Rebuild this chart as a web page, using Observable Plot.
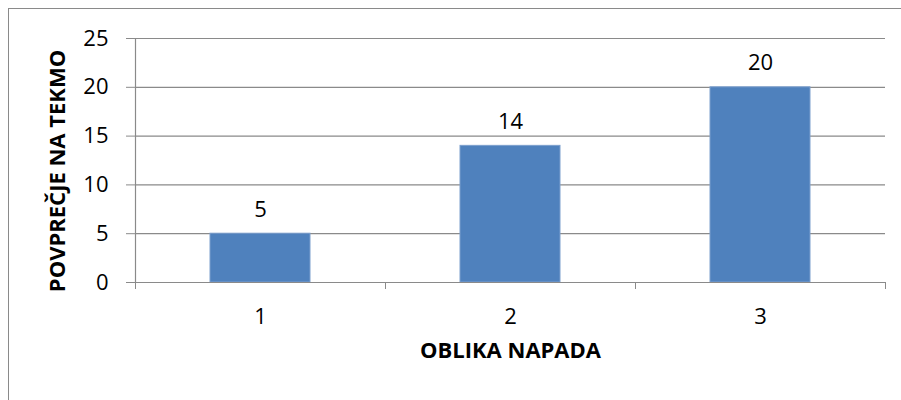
<!DOCTYPE html>
<html>
<head>
<meta charset="utf-8">
<script src="https://cdn.jsdelivr.net/npm/d3@7"></script>
<script src="https://cdn.jsdelivr.net/npm/@observablehq/plot@0.6"></script>
<style>
  html, body { margin: 0; padding: 0; background: #fff; overflow: hidden; }
  #wrap { position: relative; width: 901px; height: 400px; overflow: hidden; }
  #frame { position: absolute; left: 8px; top: 8px; width: 1000px; height: 1000px; border: 1px solid #8a8a8a; box-sizing: border-box; }
  #chart { position: absolute; left: 0; top: 0; }
</style>
</head>
<body>
<div id="wrap"><div id="frame"></div><div id="chart"></div></div>
<script>
const categories = [1, 2, 3];
const values = [5, 14, 20];
const yTicks = [0, 5, 10, 15, 20, 25];
const categoryBounds = [0.5, 1.5, 2.5, 3.5];
const xTitle = "OBLIKA NAPADA";
const yTitle = "POVPREČJE NA TEKMO";

const data = categories.map((c, i) => ({c, v: values[i]}));
const gray = "#8a8a8a";
const font = "'Open Sans', sans-serif";

const chart = Plot.plot({
  width: 901,
  height: 400,
  marginLeft: 135,
  marginRight: 16,
  marginTop: 38,
  marginBottom: 118,
  x: {type: "linear", domain: [0.5, 3.5]},
  y: {domain: [0, 25]},
  style: {fontFamily: font, fontSize: "22px", background: "transparent", color: "#000", overflow: "visible"},
  marks: [
    Plot.ruleY(yTicks, {stroke: gray, strokeWidth: 1.2}),
    Plot.rectY(data, {x1: d => d.c - 0.5, x2: d => d.c + 0.5, y: "v", insetLeft: 75, insetRight: 75, fill: "#4F81BD", stroke: "#7C9FCE", strokeWidth: 1}),
    Plot.ruleX([categoryBounds[0]], {y1: 0, y2: 25, stroke: gray, strokeWidth: 1.2}),
    Plot.ruleY([0], {stroke: gray, strokeWidth: 1.2}),
    Plot.axisY({ticks: yTicks, tickSize: 9, tickPadding: 18, stroke: gray, fill: "#000", fontSize: 22, label: null}),
    Plot.axisX({ticks: categoryBounds, tickSize: 7, tickFormat: () => "", stroke: gray, label: null}),
    Plot.axisX({ticks: categories, tickSize: 0, tickPadding: 26, tickFormat: d => String(d), fill: "#000", fontSize: 22, label: null}),
    Plot.text(data, {x: "c", y: "v", text: d => String(d.v), dy: -24, fontSize: 22, fill: "#000"}),
    Plot.text([xTitle], {text: d => d, frameAnchor: "bottom", dy: 75, fontSize: 22, fontWeight: "bold", fill: "#000"})
  ]
});

// rotated y-axis title
d3.select(chart).append("text")
  .attr("transform", "translate(58,171) rotate(-90)")
  .attr("text-anchor", "middle")
  .attr("dy", "0.32em")
  .attr("font-family", font)
  .attr("font-size", 22)
  .attr("font-weight", "bold")
  .attr("fill", "#000")
  .text(yTitle);

document.getElementById("chart").appendChild(chart);
</script>
</body>
</html>
